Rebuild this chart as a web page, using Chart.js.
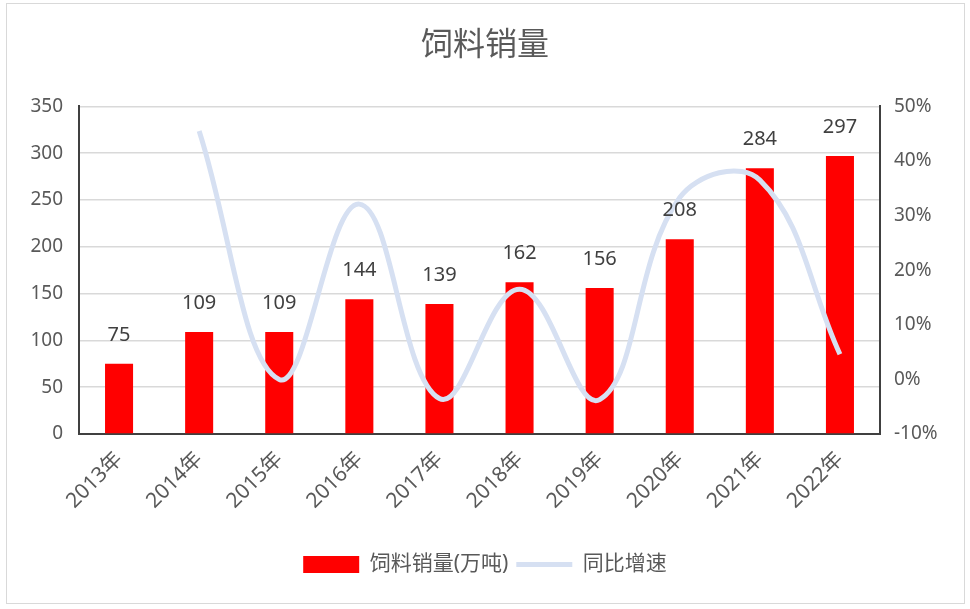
<!DOCTYPE html>
<html>
<head>
<meta charset="utf-8">
<title>饲料销量</title>
<script src="https://cdn.jsdelivr.net/npm/chart.js@4.4.1/dist/chart.umd.min.js"></script>
<style>
  html, body { margin: 0; padding: 0; background: #fff; }
  #wrap { position: relative; width: 970px; height: 609px; }
  #frame {
    position: absolute; left: 6px; top: 3px; width: 957px; height: 599px;
    border: 1px solid #d9d9d9; pointer-events: none;
  }
</style>
</head>
<body>
<div id="wrap">
  <canvas id="feedChart" width="970" height="609"></canvas>
  <div id="frame"></div>
</div>

<script>
  const years = ["2013年", "2014年", "2015年", "2016年", "2017年", "2018年", "2019年", "2020年", "2021年", "2022年"];
  const sales = [75, 109, 109, 144, 139, 162, 156, 208, 284, 297];
  const growth = [null, 0.455, 0.0, 0.321, -0.035, 0.165, -0.037, 0.333, 0.365, 0.046];
  const leftTicks = [0, 50, 100, 150, 200, 250, 300, 350];
  const rightTicks = [-0.1, 0, 0.1, 0.2, 0.3, 0.4, 0.5];

  const fontFamily = '"Noto Sans", "Noto Sans CJK SC", sans-serif';
  const grey = "#595959";

  // numbers above the bars
  const barLabels = {
    id: "barLabels",
    afterDatasetsDraw(chart) {
      const meta = chart.getDatasetMeta(0);
      const ctx = chart.ctx;
      ctx.save();
      ctx.font = "20px " + fontFamily;
      ctx.fillStyle = "#404040";
      ctx.textAlign = "center";
      ctx.textBaseline = "bottom";
      meta.data.forEach((bar, i) => {
        ctx.fillText(sales[i], bar.x, bar.y - 19);
      });
      ctx.restore();
    }
  };

  const ctx = document.getElementById("feedChart").getContext("2d");

  const chart = new Chart(ctx, {
    data: {
      labels: years,
      datasets: [
        {
          type: "bar",
          label: "饲料销量(万吨)",
          data: sales,
          backgroundColor: "#ff0000",
          borderWidth: 0,
          yAxisID: "y",
          order: 1,
          barPercentage: 0.35,
          categoryPercentage: 1
        },
        {
          type: "line",
          label: "同比增速",
          data: growth,
          borderColor: "#d6e0f2",
          backgroundColor: "#d6e0f2",
          borderWidth: 5,
          pointRadius: 0,
          tension: 0.4,
          yAxisID: "y1",
          order: 0
        }
      ]
    },
    options: {
      responsive: false,
      animation: false,
      layout: { padding: { left: 20, right: 20, top: 0, bottom: 24 } },
      plugins: {
        title: {
          display: true,
          text: "饲料销量",
          color: grey,
          font: { family: fontFamily, size: 32, weight: "normal" },
          padding: { top: 27, bottom: 41 }
        },
        legend: {
          position: "bottom",
          labels: {
            usePointStyle: true,
            pointStyleWidth: 56,
            boxHeight: 17,
            padding: 8,
            color: grey,
            font: { family: fontFamily, size: 21 },
            sort: (a, b) => a.datasetIndex - b.datasetIndex,
            generateLabels(chart) {
              const items = Chart.defaults.plugins.legend.labels.generateLabels(chart);
              items.forEach(it => { it.pointStyle = it.datasetIndex === 0 ? "rect" : "line"; });
              return items;
            }
          }
        },
        tooltip: { enabled: false }
      },
      scales: {
        x: {
          grid: { drawOnChartArea: false, drawTicks: false },
          border: { color: "#404040", width: 2 },
          ticks: {
            color: grey,
            font: { family: fontFamily, size: 21 },
            maxRotation: 45,
            minRotation: 45,
            padding: 13
          },
          afterFit(scale) { scale.height = 112; }
        },
        y: {
          position: "left",
          min: 0,
          max: 350,
          afterBuildTicks(scale) { scale.ticks = leftTicks.map(v => ({ value: v })); },
          grid: { color: "#d9d9d9", lineWidth: 1.5, drawTicks: false },
          border: { color: "#404040", width: 2 },
          ticks: {
            color: grey,
            font: { family: fontFamily, size: 19 },
            padding: 16
          },
          afterFit(scale) { scale.width = 59; }
        },
        y1: {
          position: "right",
          min: -0.1,
          max: 0.5,
          afterBuildTicks(scale) { scale.ticks = rightTicks.map(v => ({ value: v })); },
          grid: { drawOnChartArea: false, drawTicks: false },
          border: { color: "#404040", width: 2 },
          ticks: {
            color: grey,
            font: { family: fontFamily, size: 19 },
            padding: 14,
            callback: v => Math.round(v * 100) + "%"
          },
          afterFit(scale) { scale.width = 70; }
        }
      }
    },
    plugins: [barLabels]
  });
</script>
</body>
</html>
